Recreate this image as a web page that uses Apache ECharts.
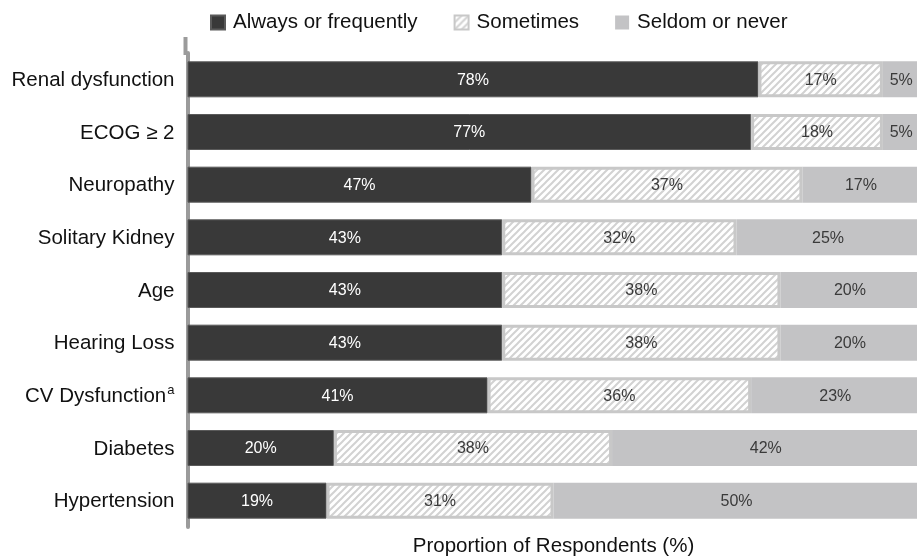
<!DOCTYPE html>
<html>
<head>
<meta charset="utf-8">
<style>
  html, body { margin: 0; padding: 0; background: #fff; }
  #chart { width: 917px; height: 558px; }
</style>
<script src="https://cdn.jsdelivr.net/npm/echarts@6/dist/echarts.min.js"></script>
</head>
<body>
<div id="chart"></div>
<script>
// Factors, top to bottom
const categories = [
  'Renal dysfunction', 'ECOG \u2265 2', 'Neuropathy', 'Solitary Kidney', 'Age',
  'Hearing Loss', 'CV Dysfunction', 'Diabetes', 'Hypertension'
];
// Share of respondents (%) per answer
const alwaysOrFrequently = [78, 77, 47, 43, 43, 43, 41, 20, 19];
const sometimes          = [17, 18, 37, 32, 38, 38, 36, 38, 31];
const seldomOrNever      = [5, 5, 17, 25, 20, 20, 23, 42, 50];
const seriesNames = ['Always or frequently', 'Sometimes', 'Seldom or never'];

const FONT = '"Liberation Sans", Arial, Helvetica, sans-serif';

// Diagonal hatch tile for the "Sometimes" segments
function hatchTile() {
  const s = 7;
  const c = document.createElement('canvas');
  c.width = s; c.height = s;
  const g = c.getContext('2d');
  g.fillStyle = '#ffffff';
  g.fillRect(0, 0, s, s);
  g.strokeStyle = '#d2d2d2';
  g.lineWidth = 2;
  g.beginPath();
  g.moveTo(-1, s + 1); g.lineTo(s + 1, -1);
  g.moveTo(-1, 1); g.lineTo(1, -1);
  g.moveTo(s - 1, s + 1); g.lineTo(s + 1, s - 1);
  g.stroke();
  return c;
}

const grid = { left: 187.5, top: 53, width: 732, height: 474, outerBoundsMode: 'none', containLabel: false };

const chart = echarts.init(document.getElementById('chart'), null, { renderer: 'canvas' });

const labelBase = {
  show: true, position: 'inside', fontFamily: FONT, fontSize: 16,
  offset: [0, 1], formatter: p => p.value + '%'
};

chart.setOption({
  animation: false,
  backgroundColor: '#ffffff',
  textStyle: { fontFamily: FONT },
  legend: {
    top: 7,
    left: 205,
    icon: 'rect',
    itemWidth: 14,
    itemHeight: 14,
    itemGap: 36,
    textStyle: { fontFamily: FONT, fontSize: 20.5, color: '#111', padding: [0, 0, 0, 3] },
    data: seriesNames
  },
  grid: grid,
  xAxis: {
    type: 'value',
    min: 0,
    max: 100,
    axisLine: { show: false },
    axisTick: { show: false },
    axisLabel: { show: false },
    splitLine: { show: false },
    name: 'Proportion of Respondents (%)',
    nameLocation: 'middle',
    nameGap: 9,
    nameTextStyle: { fontFamily: FONT, fontSize: 20.5, color: '#111' }
  },
  yAxis: {
    type: 'category',
    inverse: true,
    data: categories,
    offset: 2,
    axisLine: { show: true, lineStyle: { color: '#9b9b9b', width: 4 } },
    axisTick: { show: false },
    axisLabel: {
      margin: 11,
      fontFamily: FONT,
      fontSize: 20.5,
      color: '#111',
      padding: [2, 0, 0, 0],
      formatter: v => v === 'CV Dysfunction' ? '{m|' + v + '}{sup|a}' : v,
      rich: {
        m: { fontFamily: FONT, fontSize: 20.5, color: '#111', lineHeight: 24 },
        sup: { fontFamily: FONT, fontSize: 13, color: '#111', verticalAlign: 'top', lineHeight: 24, padding: [0, 0, 10, 1] }
      }
    }
  },
  graphic: [{
    type: 'rect',
    silent: true,
    shape: { x: grid.left - 4, y: 37, width: 4, height: grid.top - 37 + 2 },
    style: { fill: '#9b9b9b' }
  }],
  series: [
    {
      name: seriesNames[0],
      type: 'bar',
      stack: 'total',
      barWidth: 36,
      data: alwaysOrFrequently,
      itemStyle: { color: '#393939', borderColor: '#5a5a5a', borderWidth: 1 },
      label: Object.assign({}, labelBase, { color: '#ffffff' })
    },
    {
      name: seriesNames[1],
      type: 'bar',
      stack: 'total',
      data: sometimes,
      itemStyle: {
        color: { image: hatchTile(), repeat: 'repeat' },
        borderColor: '#c8c8c8',
        borderWidth: 3
      },
      label: Object.assign({}, labelBase, { color: '#3a3a3a' })
    },
    {
      name: seriesNames[2],
      type: 'bar',
      stack: 'total',
      data: seldomOrNever,
      itemStyle: { color: '#c3c3c5' },
      label: Object.assign({}, labelBase, { color: '#3a3a3a' })
    }
  ]
});
</script>
</body>
</html>
